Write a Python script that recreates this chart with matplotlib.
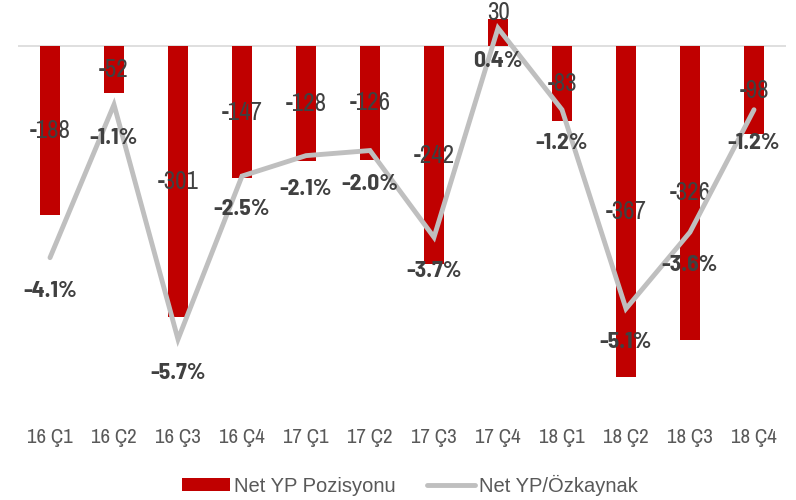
import numpy as np
import matplotlib.pyplot as plt
from matplotlib.patches import Patch
from matplotlib.lines import Line2D

quarters = ["16 Ç1", "16 Ç2", "16 Ç3", "16 Ç4", "17 Ç1", "17 Ç2",
            "17 Ç3", "17 Ç4", "18 Ç1", "18 Ç2", "18 Ç3", "18 Ç4"]
net_yp = [-188, -52, -301, -147, -128, -126, -242, 30, -83, -367, -326, -98]
yp_ozkaynak = [-4.1, -1.1, -5.7, -2.5, -2.1, -2.0, -3.7, 0.4, -1.2, -5.1, -3.6, -1.2]

RED = "#c00000"
GRAY = "#bfbfbf"
TXT = "#404040"
plt.rcParams["font.family"] = ["Archivo Narrow", "DejaVu Sans"]

fig = plt.figure(figsize=(7.96, 5.0), dpi=100)
ax = fig.add_axes([18 / 796, 0.2, 768 / 796, 0.78])
x = np.arange(len(quarters))

ax.bar(x, net_yp, width=0.31, color=RED, zorder=2)
ax.axhline(0, color="#d9d9d9", lw=1.2, zorder=1)
ax.set_xlim(-0.5, len(quarters) - 0.5)
ax.set_ylim(-393, 40)
for s in ax.spines.values():
    s.set_visible(False)
ax.set_yticks([])
ax.set_xticks(x)
ax.set_xticklabels(quarters, fontsize=15, color="#595959")
ax.tick_params(axis="x", length=0, pad=20)

# bar values: centred in negative bars, just above the positive one
for xi, v in zip(x, net_yp):
    if v < 0:
        ax.text(xi, v / 2, f"{v}", ha="center", va="center", fontsize=18,
                color=TXT, zorder=4)
    else:
        ax.annotate(f"{v}", (xi, v), xytext=(0, 4.5), textcoords="offset points",
                    ha="center", va="center", fontsize=18, color=TXT, zorder=4)

ax2 = ax.twinx()
ax2.set_ylim(-6.89, 0.755)
ax2.plot(x, yp_ozkaynak, color=GRAY, lw=3.5, solid_capstyle="round",
         solid_joinstyle="miter", zorder=3)
for s in ax2.spines.values():
    s.set_visible(False)
ax2.set_yticks([])
for xi, v in zip(x, yp_ozkaynak):
    ax2.annotate(f"{v:.1f}%", (xi, v), xytext=(0, -24), textcoords="offset points",
                 ha="center", va="center", fontsize=17, fontweight="bold",
                 family="Barlow Semi Condensed", color=TXT, zorder=5)

handles = [Patch(facecolor=RED, edgecolor="none"),
           Line2D([0], [0], color=GRAY, lw=3.5, solid_capstyle="round")]
fig.legend(handles, ["Net YP Pozisyonu", "Net YP/Özkaynak"], loc="center",
           bbox_to_anchor=(0.515, 0.03), ncol=2, frameon=False,
           prop={"family": "Liberation Sans", "size": 14.5},
           labelcolor="#595959", handlelength=2.4, handleheight=0.65,
           handletextpad=0.2, columnspacing=1.55)

fig.savefig("out.png", dpi=100)
